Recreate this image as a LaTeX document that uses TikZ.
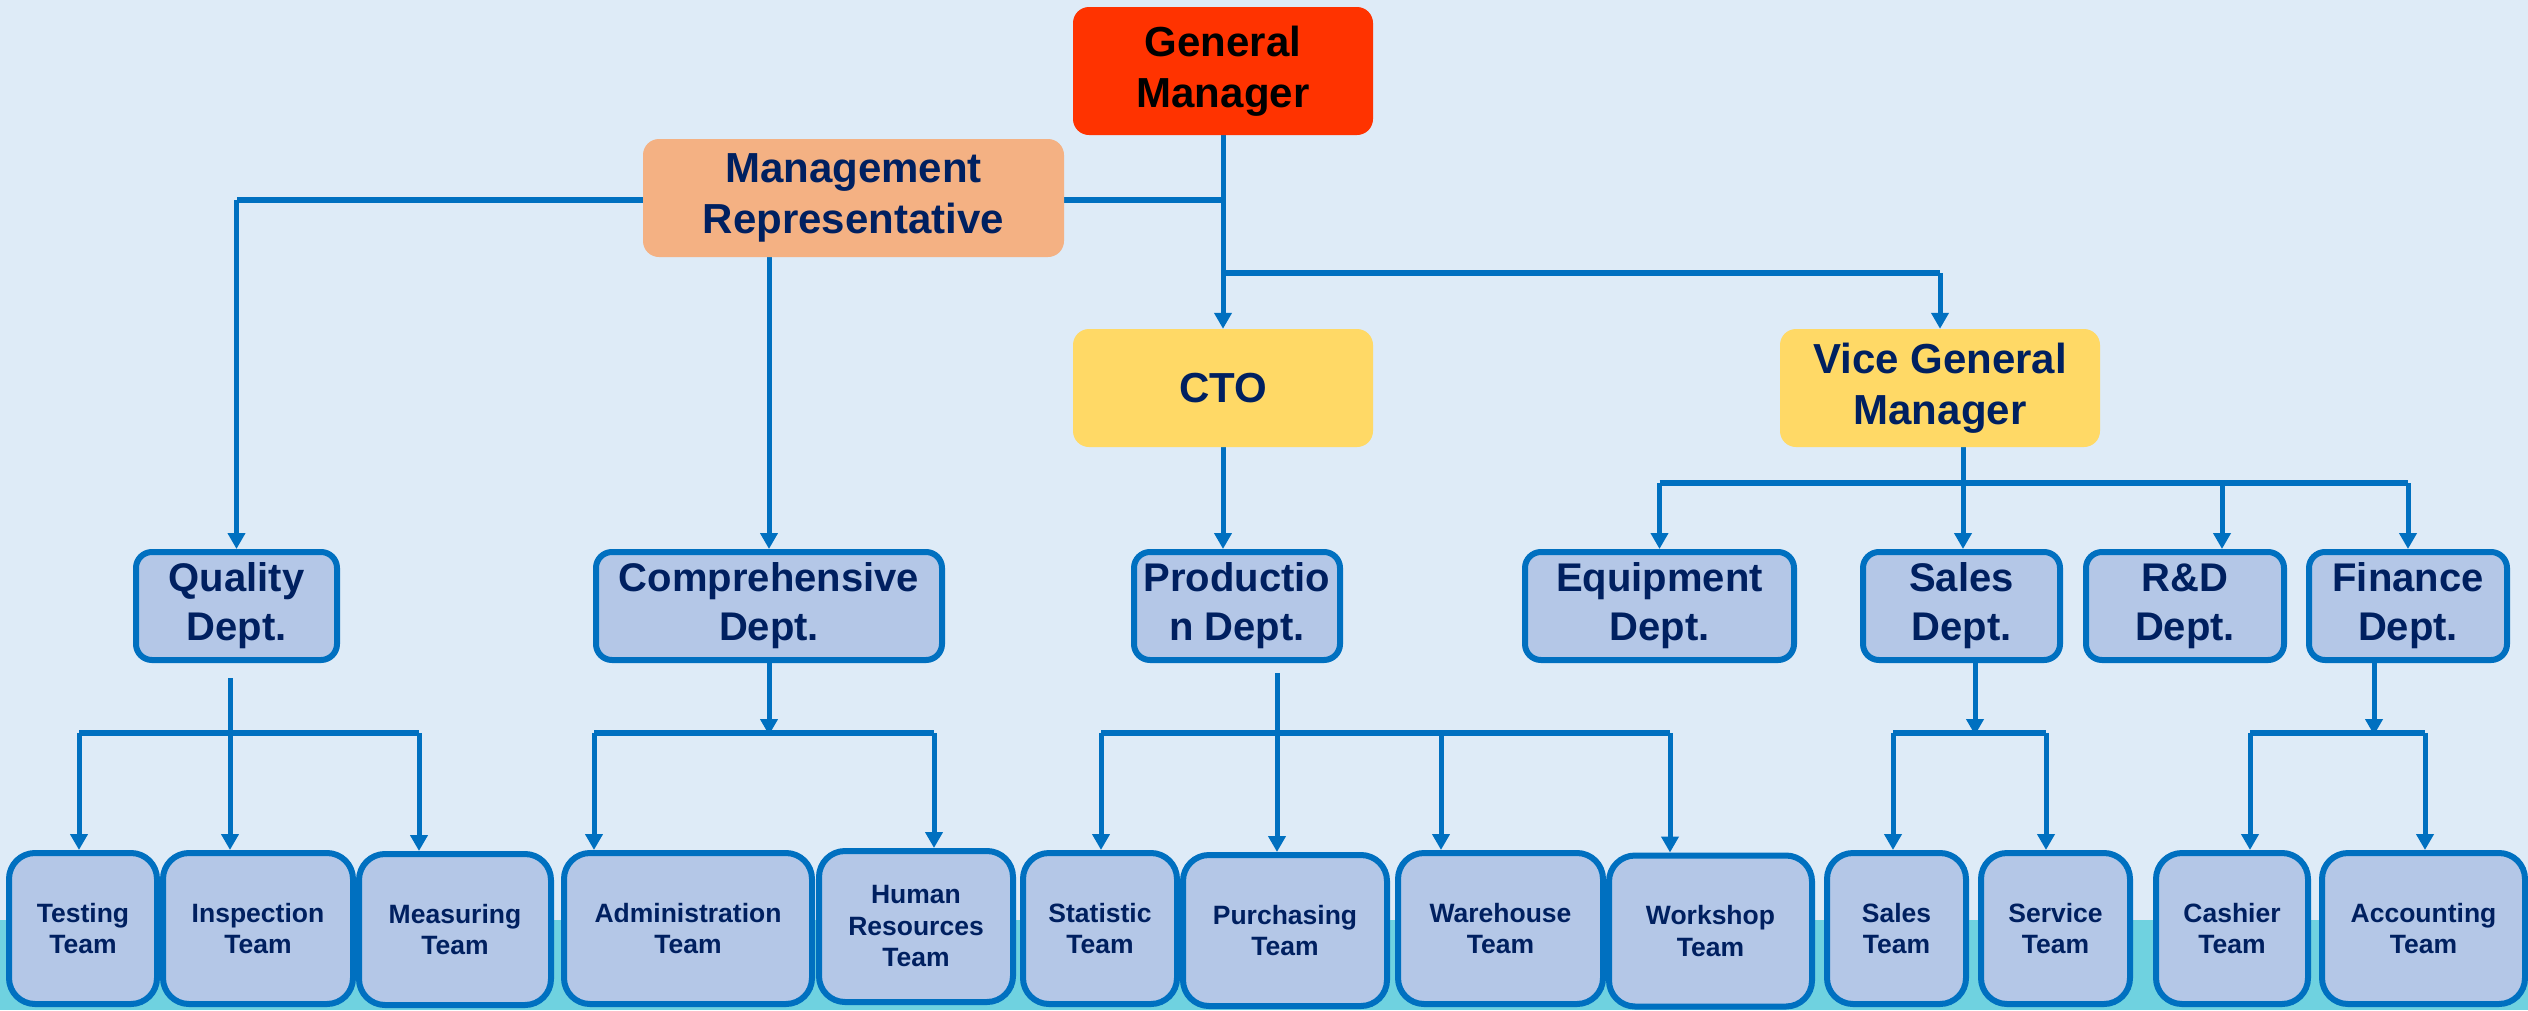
\documentclass[tikz,border=0pt]{standalone}
\usepackage{fontspec}
\setmainfont{Liberation Sans}
\usetikzlibrary{arrows.meta,calc}
\definecolor{bgblue}{HTML}{DEEBF7}
\definecolor{stripcyan}{HTML}{6FD2E0}
\definecolor{lineblue}{HTML}{0070C0}
\definecolor{boxfill}{HTML}{B4C7E7}
\definecolor{navy}{HTML}{002060}
\definecolor{gmred}{HTML}{FF3300}
\definecolor{mrorange}{HTML}{F4B183}
\definecolor{ctoyellow}{HTML}{FFD966}
\pgfdeclarelayer{bglayer}
\pgfdeclarelayer{linelayer}
\pgfsetlayers{bglayer,linelayer,main}
\begin{document}
\begin{tikzpicture}[x=1pt,y=-1pt,
  topbox/.style={rounded corners=16pt, inner sep=0pt, align=center, text=navy,
    font=\fontsize{42}{51}\selectfont\bfseries, minimum height=118pt},
  dept/.style={draw=lineblue, line width=6pt, fill=boxfill, rounded corners=16pt,
    inner sep=0pt, align=center, text=navy,
    font=\fontsize{40}{49}\selectfont\bfseries, minimum height=108pt},
  team/.style={draw=lineblue, line width=6pt, fill=boxfill, rounded corners=26pt,
    inner sep=0pt, align=center, text=navy,
    font=\fontsize{26.5}{31.5}\selectfont\bfseries, minimum height=151pt},
  conn/.style={draw=lineblue, line width=5pt},
  arr/.style={conn, -{Triangle[length=16pt,width=17pt]}},
  hbar/.style={draw=lineblue, line width=5.5pt},
]
\useasboundingbox (0,0) rectangle (2528,1010);
\begin{pgfonlayer}{bglayer}
  \fill[bgblue] (0,0) rectangle (2528,1010);
  \fill[stripcyan] (0,920) rectangle (2528,1010);
\end{pgfonlayer}

% top level
\node[topbox, fill=gmred, text=black, minimum width=300pt, minimum height=128pt] (gm) at (1223,71) {General\\Manager};
\node[topbox, fill=mrorange, minimum width=421pt] (mr) at (853.5,198) {Management\\Representative};
\node[topbox, fill=ctoyellow, minimum width=300pt] (cto) at (1223,388) {CTO};
\node[topbox, fill=ctoyellow, minimum width=320pt] (vgm) at (1940,388) {Vice General\\Manager};

% departments
\node[dept, minimum width=201pt] (quality) at (236.5,606) {Quality\\Dept.};
\node[dept, minimum width=346pt] (comp) at (769,606) {Comprehensive\\Dept.};
\node[dept, minimum width=206pt] (prod) at (1237,606) {Productio\\n Dept.};
\node[dept, minimum width=269pt] (equip) at (1659.5,606) {Equipment\\Dept.};
\node[dept, minimum width=197pt] (salesd) at (1961.5,606) {Sales\\Dept.};
\node[dept, minimum width=198pt] (rd) at (2185,606) {R\&D\\Dept.};
\node[dept, minimum width=198pt] (fin) at (2408,606) {Finance\\Dept.};

% teams
\node[team, minimum width=148pt] (test) at (83,928.5) {Testing\\Team};
\node[team, minimum width=190pt] (insp) at (258,928.5) {Inspection\\Team};
\node[team, minimum width=192pt] (meas) at (455,929.5) {Measuring\\Team};
\node[team, minimum width=248pt] (admin) at (688,928.5) {Administration\\Team};
\node[team, minimum width=194pt] (hr) at (916,926.5) {Human\\Resources\\Team};
\node[team, minimum width=154pt] (stat) at (1100,928.5) {Statistic\\Team};
\node[team, minimum width=204pt] (purch) at (1285,930.5) {Purchasing\\Team};
\node[team, minimum width=205pt] (ware) at (1500.5,928.5) {Warehouse\\Team};
\node[team, minimum width=203pt] (work) at (1710.5,931) {Workshop\\Team};
\node[team, minimum width=139pt] (steam) at (1896.5,928.5) {Sales\\Team};
\node[team, minimum width=149pt] (serv) at (2055.5,928.5) {Service\\Team};
\node[team, minimum width=152pt] (cash) at (2232,928.5) {Cashier\\Team};
\node[team, minimum width=203pt] (acc) at (2423.5,928.5) {Accounting\\Team};

% junction coordinates
\coordinate (j0) at (1223,200);
\coordinate (j1) at (1223,273);
\coordinate (vb) at (1963,483);
\coordinate (rdin) at (2222,483);
\coordinate (qs) at (230,678);
\coordinate (qL) at (79,733);
\coordinate (qR) at (419,733);
\coordinate (cL) at (594,733);
\coordinate (cR) at (934,733);
\coordinate (ps) at (1277,673);
\coordinate (pL) at (1101,733);
\coordinate (pM) at (1441,733);
\coordinate (pR) at (1670,733);
\coordinate (sx) at (1975,733);
\coordinate (sL) at (1893,733);
\coordinate (sR) at (2046,733);
\coordinate (fx) at (2374,733);
\coordinate (fL) at (2250,733);
\coordinate (fR) at (2425,733);

\begin{pgfonlayer}{linelayer}
  % GM level
  \draw[arr] (gm.south) -- (cto.north);
  \draw[hbar] (j0) -- (quality.north |- j0);
  \draw[arr] (quality.north |- j0) -- (quality.north);
  \draw[hbar] (j1) -- (vgm.north |- j1);
  \draw[arr] (vgm.north |- j1) -- (vgm.north);
  % MR -> Comprehensive
  \draw[arr] (comp.north |- mr.south) -- (comp.north);
  % CTO -> Production
  \draw[arr] (cto.south) -- (cto.south |- prod.north);
  % VGM -> departments
  \draw[conn] (vgm.south -| vb) -- (vb);
  \draw[hbar] (equip.north |- vb) -- (fin.north |- vb);
  \draw[arr] (vb) -- (vb |- salesd.north);
  \draw[arr] (equip.north |- vb) -- (equip.north);
  \draw[arr] (rdin) -- (rdin |- rd.north);
  \draw[arr] (fin.north |- vb) -- (fin.north);
  % Quality -> teams
  \draw[arr] (qs) -- (qs |- insp.north);
  \draw[hbar] (qL) -- (qR);
  \draw[arr] (qL) -- (qL |- test.north);
  \draw[arr] (qR) -- (qR |- meas.north);
  % Comprehensive -> teams
  \draw[hbar] (cL) -- (cR);
  \draw[arr] (comp.south) -- ([yshift=-2pt]comp.south |- cL);
  \draw[arr] (cL) -- (cL |- admin.north);
  \draw[arr] (cR) -- (cR |- hr.north);
  % Production -> teams
  \draw[hbar] (pL) -- (pR);
  \draw[arr] (ps) -- (ps |- purch.north);
  \draw[arr] (pL) -- (pL |- stat.north);
  \draw[arr] (pM) -- (pM |- ware.north);
  \draw[arr] (pR) -- (pR |- work.north);
  % Sales dept -> teams
  \draw[hbar] (sL) -- (sR);
  \draw[arr] (sx |- salesd.south) -- ([yshift=-2pt]sx);
  \draw[arr] (sL) -- (sL |- steam.north);
  \draw[arr] (sR) -- (sR |- serv.north);
  % Finance -> teams
  \draw[hbar] (fL) -- (fR);
  \draw[arr] (fx |- fin.south) -- ([yshift=-2pt]fx);
  \draw[arr] (fL) -- (fL |- cash.north);
  \draw[arr] (fR) -- (fR |- acc.north);
\end{pgfonlayer}
\end{tikzpicture}
\end{document}
